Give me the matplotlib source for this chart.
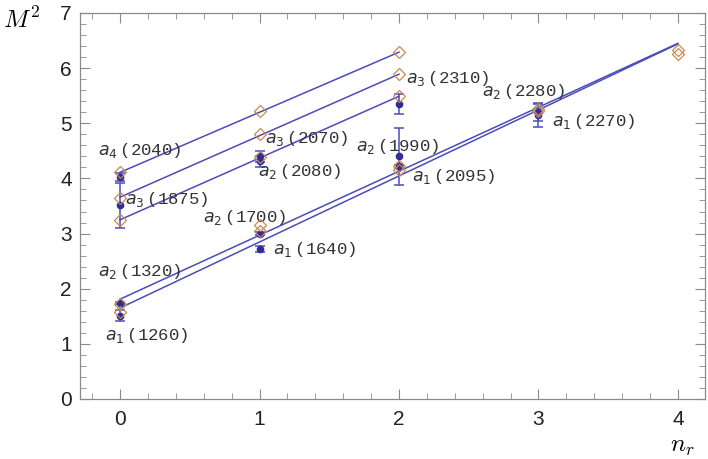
import matplotlib
matplotlib.use('Agg')
from matplotlib import pyplot as plt

# theoretical masses squared (open diamonds)
th_nr = [0, 0, 0, 0, 0, 1, 1, 1, 1, 1, 2, 2, 2, 2, 2, 3, 3, 4, 4]
th_m2 = [4.11, 3.65, 3.24, 1.73, 1.57,
         5.23, 4.80, 4.38, 3.16, 3.05,
         6.29, 5.89, 5.49, 4.22, 4.15,
         5.26, 5.22,
         6.32, 6.26]

# experimental masses squared with errors (filled circles)
ex_nr = [0, 0, 0, 0, 1, 1, 1, 1, 2, 2, 2, 3, 3]
ex_m2 = [4.02, 3.51, 1.74, 1.51, 4.40, 4.31, 3.00, 2.72, 5.35, 4.40, 4.22, 5.20, 5.15]
ex_err = [0.075, 0.40, 0.02, 0.10, 0.10, 0.10, 0.03, 0.05, 0.18, 0.52, 0.03, 0.15, 0.22]

# trajectories (straight lines) start / end
traj_nr0 = [0, 0, 0, 0, 0]
traj_nr1 = [2, 2, 2, 4, 4]
traj_m0 = [4.11, 3.66, 3.25, 1.81, 1.65]
traj_m1 = [6.29, 5.89, 5.49, 6.45, 6.44]

# state labels
lab_sub = ['4', '3', '2', '2', '1', '1', '3', '2', '2', '1', '3', '2', '1']
lab_mass = ['2040', '1875', '1700', '1320', '1260', '1640', '2070', '2080',
            '1990', '2095', '2310', '2280', '2270']
lab_x = [-0.158, 0.036, 0.593, -0.158, -0.108, 1.097, 1.039, 0.99,
         1.69, 2.09, 2.05, 2.593, 3.10]
lab_y = [4.51, 3.62, 3.30, 2.31, 1.16, 2.72, 4.73, 4.13,
         4.58, 4.03, 5.82, 5.57, 5.03]

line_col = '#4b4bb9'
dot_col = '#2e2e96'
dia_col = '#c8894f'
frame_col = '#8a8a8a'

fig = plt.figure(figsize=(7.08, 4.59), dpi=100)
ax = fig.add_axes([80/708., 1 - 399/459., 625/708., 386/459.])

for i in range(len(traj_nr0)):
    ax.plot([traj_nr0[i], traj_nr1[i]], [traj_m0[i], traj_m1[i]],
            color=line_col, lw=1.1, zorder=2)

ax.errorbar(ex_nr, ex_m2, yerr=ex_err, fmt='o', ms=4.5, color=dot_col,
            ecolor=line_col, elinewidth=1.1, capsize=3.5, capthick=1.1, zorder=3)

ax.plot(th_nr, th_m2, 'D', ms=6.5, mfc='none', mec=dia_col, mew=0.9, zorder=4)

for i in range(len(lab_sub)):
    ax.text(lab_x[i], lab_y[i], r'$a_{%s}\,$(%s)' % (lab_sub[i], lab_mass[i]),
            family='Liberation Mono', fontsize=12.5, color='#333333',
            math_fontfamily='dejavusans', ha='left', va='center')

ax.set_xlim(-0.287, 4.194)
ax.set_ylim(0, 7)
ax.set_xticks([0, 1, 2, 3, 4])
ax.set_yticks(range(8))
ax.set_xticks([x/5. for x in range(-1, 21)], minor=True)
ax.set_yticks([y/5. for y in range(0, 36)], minor=True)
ax.tick_params(which='both', direction='in', top=True, right=True, color=frame_col)
ax.tick_params(which='major', length=7, width=0.8, labelsize=15, labelcolor='#222222')
ax.tick_params(which='minor', length=4, width=0.6)
ax.tick_params(axis='y', pad=6)
ax.tick_params(axis='x', pad=8)
for lab in ax.get_xticklabels() + ax.get_yticklabels():
    lab.set_family('Liberation Sans')
for s in ax.spines.values():
    s.set_color(frame_col)
    s.set_linewidth(0.9)

fig.text(3/708., 1 - 28/459., r'$M^2$', fontsize=18, math_fontfamily='cm',
         ha='left', va='baseline')
fig.text(670/708., 1 - 452/459., r'$n_r$', fontsize=18, math_fontfamily='cm',
         ha='left', va='baseline')

fig.savefig('out.png', dpi=100)
